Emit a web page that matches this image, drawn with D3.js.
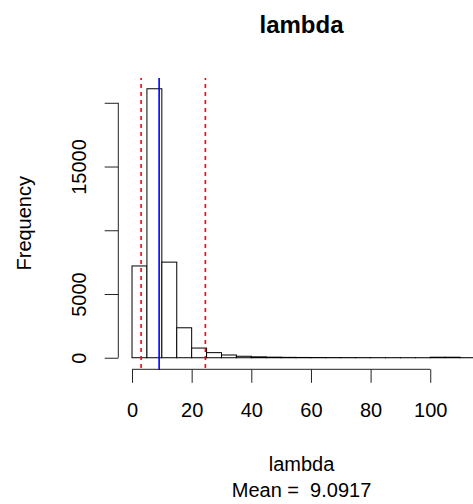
<!DOCTYPE html>
<html>
<head>
<meta charset="utf-8">
<script src="https://cdn.jsdelivr.net/npm/d3@7"></script>
<style>
  html, body { margin: 0; padding: 0; background: #fff; }
  svg { display: block; font-family: "Liberation Sans", Arial, Helvetica, sans-serif; }
</style>
</head>
<body>
<svg id="chart" width="473" height="504"></svg>
<script>
// Histogram of posterior draws of lambda (bins of width 5)
const binStarts = [0, 5, 10, 15, 20, 25, 30, 35, 40, 45, 50, 55, 60, 65, 70, 75, 80, 85, 90, 95, 100, 105, 110];
const binWidth = 5;
const counts = [7200, 21100, 7500, 2350, 760, 400, 215, 115, 70, 45, 30, 22, 16, 12, 10, 8, 6, 5, 4, 3, 40, 40, 4];

// Summary lines: mean (solid blue) and 95% interval (dashed red)
const meanValue = 9.0917;
const intervalBounds = [3.05, 24.6];

// Axis ticks
const xTicks = [0, 20, 40, 60, 80, 100];
const yTicks = [0, 5000, 10000, 15000, 20000];
const yTickLabels = ["0", "5000", "", "15000", ""];

const titleText = "lambda";
const xLabel = "lambda";
const subLabel = "Mean =  " + meanValue.toFixed(4);
const yLabel = "Frequency";

const svg = d3.select("#chart");

// Plot region (x range padded 4% either side, as is usual for histograms)
const xMin = binStarts[0];
const xMax = binStarts[binStarts.length - 1] + binWidth;
const xPad = 0.04 * (xMax - xMin);
const yMax = d3.max(counts);
const yPad = 0.04 * yMax;

const plot = { left: 118.3, right: 488.7, top: 78, bottom: 368.5 };

const x = d3.scaleLinear()
  .domain([xMin - xPad, xMax + xPad])
  .range([plot.left, plot.right]);

const y = d3.scaleLinear()
  .domain([-yPad, yMax + yPad])
  .range([plot.bottom, plot.top]);

const bins = binStarts.map((s, i) => ({ x0: s, x1: s + binWidth, n: counts[i] }));

// Bars
svg.append("g")
  .selectAll("rect")
  .data(bins)
  .join("rect")
  .attr("x", d => x(d.x0))
  .attr("y", d => y(d.n))
  .attr("width", d => x(d.x1) - x(d.x0))
  .attr("height", d => y(0) - y(d.n))
  .attr("fill", "#fff")
  .attr("stroke", "#000")
  .attr("stroke-width", 1);

// Interval bounds
svg.append("g")
  .selectAll("line")
  .data(intervalBounds)
  .join("line")
  .attr("x1", d => x(d)).attr("x2", d => x(d))
  .attr("y1", plot.top).attr("y2", plot.bottom + 1.5)
  .attr("stroke", "#ff0000")
  .attr("stroke-width", 1.6)
  .attr("stroke-dasharray", "4,4")
  .attr("stroke-dashoffset", -6);

// Mean
svg.append("line")
  .attr("x1", x(meanValue)).attr("x2", x(meanValue))
  .attr("y1", plot.top).attr("y2", plot.bottom + 1.5)
  .attr("stroke", "#0000ff")
  .attr("stroke-width", 1.6);

// X axis
const xAxisY = plot.bottom + 0.8;
const gx = svg.append("g")
  .attr("transform", `translate(0,${xAxisY})`)
  .call(d3.axisBottom(x).tickValues(xTicks).tickFormat(d3.format("d")).tickSize(13.5).tickSizeOuter(0));
gx.select(".domain").remove();
gx.append("line")
  .attr("x1", x(xTicks[0])).attr("x2", x(xTicks[xTicks.length - 1]))
  .attr("stroke", "#222");
gx.selectAll(".tick line").attr("stroke", "#222");
gx.selectAll(".tick text")
  .attr("y", 48).attr("dy", 0)
  .attr("fill", "#000")
  .style("font-size", "20px")
  .style("font-family", "Liberation Sans, Arial, sans-serif");

// Y axis
const gy = svg.append("g")
  .attr("transform", `translate(${plot.left},0)`)
  .call(d3.axisLeft(y).tickValues(yTicks).tickFormat((d, i) => yTickLabels[i]).tickSize(13.6).tickSizeOuter(0));
gy.select(".domain").remove();
gy.append("line")
  .attr("y1", y(yTicks[0])).attr("y2", y(yTicks[yTicks.length - 1]))
  .attr("stroke", "#222");
gy.selectAll(".tick line").attr("stroke", "#222");
gy.selectAll(".tick text")
  .attr("x", 0).attr("y", 0).attr("dy", 0)
  .attr("transform", "translate(-32.3,0) rotate(-90)")
  .attr("text-anchor", "middle")
  .attr("fill", "#000")
  .style("font-size", "20px")
  .style("font-family", "Liberation Sans, Arial, sans-serif");

// Titles
const cx = (plot.left + plot.right) / 2 - 2;
svg.append("text")
  .attr("x", cx).attr("y", 33)
  .attr("text-anchor", "middle")
  .style("font-size", "24px").style("font-weight", "bold")
  .text(titleText);

svg.append("text")
  .attr("x", cx).attr("y", 471)
  .attr("text-anchor", "middle")
  .style("font-size", "20px")
  .text(xLabel);

svg.append("text")
  .attr("x", cx).attr("y", 497)
  .attr("text-anchor", "middle")
  .style("font-size", "20px")
  .style("white-space", "pre")
  .text(subLabel);

svg.append("text")
  .attr("transform", `translate(30.5,${(plot.top + plot.bottom) / 2}) rotate(-90)`)
  .attr("text-anchor", "middle")
  .style("font-size", "20px")
  .text(yLabel);
</script>
</body>
</html>
